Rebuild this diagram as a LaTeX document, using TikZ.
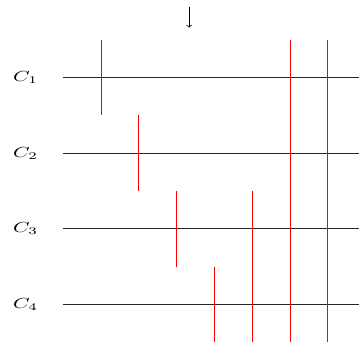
\documentclass[tikz,border=0pt]{standalone}
\usetikzlibrary{positioning}
\begin{document}
\begin{tikzpicture}[wire/.style={line width=0.7pt,black!85},cut/.style={line width=0.8pt,red},lbl/.style={xscale=1.6,yscale=1.1}]
\useasboundingbox (-1.675,-7.125) rectangle (7.825,2.055);
\foreach \i in {1,...,4} {
  \node[lbl] (c\i) at (-1,{-2*(\i-1)}) {$C_\i$};
  \coordinate (s\i) at (0,{-2*(\i-1)});
  \coordinate (e\i) at (7.825,{-2*(\i-1)});
  \draw[wire] (s\i) -- (e\i);
}
\coordinate (from) at (3.33,1.87);
\coordinate (to) at (3.33,1.32);
\draw[->,semithick] (from) -- (to);
\foreach \k/\ya/\yb in {1/1/-1,2/-1/-3,3/-3/-5,4/-5/-7,5/-3/-7,6/1/-7,7/1/-7} {
  \coordinate (top\k) at (\k,\ya);
  \coordinate (bot\k) at (\k,\yb);
  \draw[cut] (top\k) -- (bot\k);
}
\end{tikzpicture}
\end{document}
